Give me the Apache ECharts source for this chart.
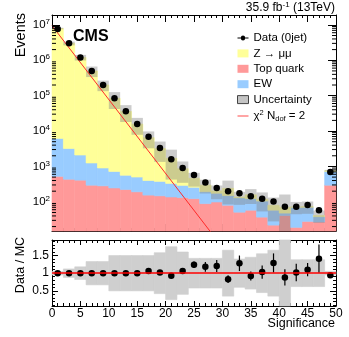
<!DOCTYPE html>
<html>
<head>
<meta charset="utf-8">
<script src="https://cdn.jsdelivr.net/npm/echarts@6/dist/echarts.min.js"></script>
<style>
html, body { margin: 0; padding: 0; background: #fff; }
#chart { width: 349px; height: 337px; }
</style>
</head>
<body>
<div id="chart"></div>
<script>
// bins of width 2 in significance, last one is the overflow
const binEdges = [0, 2, 4, 6, 8, 10, 12, 14, 16, 18, 20, 22, 24, 26, 28, 30, 32, 34, 36, 38, 40, 42, 44, 46, 48, 50];

const dataEvents = [7.6e6, 3.0e6, 1.2e6, 5.0e5, 2.0e5, 8.4e4, 3.6e4, 1.57e4, 6.9e3, 3.3e3, 1600, 910, 575, 350, 245, 200, 175, 145, 123, 103, 73, 73, 81, 58, 700];
const topQuark = [525, 435, 410, 295, 283, 247, 223, 192, 155, 148, 137, 132, 123, 89, 99, 80, 51, 58, 37, 22, 41, 19, 28, 27, 295];
const ewk = [5680, 2770, 1690, 955, 620, 475, 340, 310, 245, 230, 195, 160, 135, 105, 76, 70, 79, 65, 68, 36, 7, 51, 42, 11, 425];
const zmm = [7.894e6, 2.997e6, 1.198e6, 4.99e5, 1.99e5, 83300, 35400, 15200, 6100, 2820, 1370, 570, 206, 103, 29, 91, 7, 35, 14, 22, 22, 2, 4, 3, 40];
const uncRel = [0.05, 0.12, 0.18, 0.33, 0.33, 0.5, 0.5, 0.5, 0.5, 0.58, 0.75, 0.6, 0.42, 0.42, 0.42, 0.65, 0.4, 0.45, 0.55, 0.65, 1.3, 0.38, 0.38, 0.38, 0.05];

const ratio = [1.0, 1.0, 1.0, 1.0, 1.0, 1.0, 1.0, 1.0, 1.06, 1.02, 0.93, 1.06, 1.24, 1.18, 1.2, 0.83, 1.28, 0.92, 1.03, 1.29, 0.88, 1.02, 1.1, 1.41, 0.94];
const ratioErr = [0.01, 0.01, 0.01, 0.01, 0.01, 0.01, 0.02, 0.02, 0.02, 0.03, 0.04, 0.05, 0.09, 0.14, 0.17, 0.11, 0.22, 0.13, 0.19, 0.27, 0.23, 0.25, 0.19, 0.4, 0.05];

// exponential chi2 (Ndof = 2) expectation, straight on the log axis
const fitX = [0, 30];
const fitY = [9.5e6, 5.2];

const logDecades = [10, 100, 1e3, 1e4, 1e5, 1e6, 1e7];
const logMinorSteps = [2, 3, 4, 5, 6, 7, 8, 9];
const ratioMajor = [0.5, 1, 1.5];
const ratioMinor = [0.1, 0.2, 0.3, 0.4, 0.6, 0.7, 0.8, 0.9, 1.1, 1.2, 1.3, 1.4, 1.6, 1.7, 1.8, 1.9];

const FONT = "'Liberation Sans', Arial, Helvetica, sans-serif";
const C_Z = "#ffff99";
const C_TOP = "#ff9999";
const C_EW = "#99ccff";
const C_UNC = "rgba(128,128,128,0.4)";

const chart = echarts.init(document.getElementById("chart"));

// stacked layers: [x0, x1, low, high]
const layerTop = [], layerEw = [], layerZ = [], uncBox = [], ratioBand = [];
const dataPts = [], ratioPts = [];
for (let i = 0; i < dataEvents.length; i++) {
  const x0 = binEdges[i], x1 = binEdges[i + 1], xc = (x0 + x1) / 2;
  const t1 = topQuark[i], t2 = t1 + ewk[i], t3 = t2 + zmm[i];
  layerTop.push([x0, x1, 1, t1]);
  layerEw.push([x0, x1, t1, t2]);
  layerZ.push([x0, x1, t2, t3]);
  uncBox.push([x0, x1, Math.max(1, t3 * (1 - uncRel[i])), t3 * (1 + uncRel[i])]);
  ratioBand.push([x0, x1, 1 - uncRel[i], 1 + uncRel[i]]);
  dataPts.push([xc, dataEvents[i]]);
  ratioPts.push([xc, ratio[i], ratioErr[i]]);
}

const minorLog = [];
logDecades.forEach((d) => logMinorSteps.forEach((k) => {
  const v = d * k;
  if (v > 15 && v < 1.9e7) minorLog.push([0, v]);
}));

function rectItem(params, api) {
  const p0 = api.coord([api.value(0), api.value(3)]);
  const p1 = api.coord([api.value(1), api.value(2)]);
  const cs = params.coordSys;
  const shape = echarts.graphic.clipRectByRect(
    { x: p0[0], y: p0[1], width: p1[0] - p0[0], height: p1[1] - p0[1] },
    { x: cs.x, y: cs.y, width: cs.width, height: cs.height }
  );
  return shape && { type: "rect", shape: shape, style: { fill: api.visual("color") } };
}
// opaque layers get a hairline of their own colour so neighbouring bins don't leave seams
function solidRectItem(params, api) {
  const el = rectItem(params, api);
  if (el) { el.style.stroke = api.visual("color"); el.style.lineWidth = 0.6; }
  return el;
}

function histSeries(name, data, color, z, solid) {
  return {
    name: name, type: "custom", xAxisIndex: 0, yAxisIndex: 0, z: z,
    data: data, encode: { x: [0, 1], y: [2, 3] },
    itemStyle: { color: color }, renderItem: solid ? solidRectItem : rectItem, silent: true
  };
}

const lineBlack = { color: "#000", width: 1 };
function xAx(grid, pos, labels) {
  return {
    gridIndex: grid, type: "value", min: 0, max: 50, interval: 5, position: pos,
    axisLine: { show: true, onZero: false, lineStyle: lineBlack },
    axisTick: { show: true, inside: true, length: grid === 0 ? 7 : 5, lineStyle: lineBlack },
    minorTick: { show: true, splitNumber: 5, length: 3, lineStyle: lineBlack },
    axisLabel: { show: labels, color: "#000", fontFamily: FONT, fontSize: 12, margin: 2 },
    splitLine: { show: false }
  };
}
function logAx(pos, labels) {
  return {
    gridIndex: 0, type: "log", logBase: 10, min: 15, max: 1.9e7, splitNumber: 6, position: pos,
    axisLine: { show: true, onZero: false, lineStyle: lineBlack },
    axisTick: { show: true, inside: true, length: 8, lineStyle: lineBlack },
    axisLabel: {
      show: labels, margin: 2,
      formatter: (v) => {
        const l = Math.log10(v), e = Math.round(l);
        if (Math.abs(l - e) > 1e-6) return "";
        return "{b|10}{e|" + e + "}";
      },
      rich: {
        b: { fontSize: 11.5, fontFamily: FONT, color: "#000" },
        e: { fontSize: 8, fontFamily: FONT, color: "#000", padding: [0, 0, 6, 0] }
      }
    },
    splitLine: { show: false }
  };
}
function ratioAx(pos, ticks, len, labels, line) {
  return {
    gridIndex: 1, type: "value", min: 0.07, max: 1.94, position: pos,
    axisLine: { show: line, onZero: false, lineStyle: lineBlack },
    axisTick: { show: true, inside: true, length: len, customValues: ticks, lineStyle: lineBlack },
    axisLabel: { show: labels, customValues: ratioMajor, color: "#000", fontFamily: FONT, fontSize: 12, margin: 3 },
    splitLine: { show: false }
  };
}

const legendIconData = "path://M0,3.5H4a2.5,2.5,0,0,1,5,0H13v1H9a2.5,2.5,0,0,1,-5,0H0Z";
const legendIconLine = "path://M0,0H13V1H0Z";

chart.setOption({
  animation: false,
  backgroundColor: "#fff",
  textStyle: { fontFamily: FONT },
  grid: [
    { left: 52, right: 13, top: 15, height: 216, outerBoundsMode: "none" },
    { left: 52, right: 13, top: 240, height: 66, outerBoundsMode: "none" }
  ],
  xAxis: [xAx(0, "bottom", false), xAx(0, "top", false), xAx(1, "bottom", true), xAx(1, "top", false)],
  yAxis: [
    logAx("left", true), logAx("right", false),
    ratioAx("left", ratioMajor, 6, true, true), ratioAx("left", ratioMinor, 3, false, false),
    ratioAx("right", ratioMajor, 6, false, true), ratioAx("right", ratioMinor, 3, false, false)
  ],
  legend: {
    orient: "vertical", left: 237, top: 32, padding: 0,
    itemWidth: 11, itemHeight: 8, itemGap: 3.4,
    textStyle: {
      fontFamily: FONT, fontSize: 11.5, color: "#000", lineHeight: 11,
      rich: {
        n: { fontFamily: FONT, fontSize: 11.5, color: "#000" },
        s: { fontFamily: FONT, fontSize: 7.5, color: "#000", padding: [0, 0, 6, 0] },
        d: { fontFamily: FONT, fontSize: 7.5, color: "#000", padding: [5, 0, 0, 0] }
      }
    },
    formatter: (name) => name === "chi2" ? "{n|χ}{s|2}{n| N}{d|dof}{n| = 2}" : name,
    data: [
      { name: "Data (0jet)", icon: legendIconData },
      { name: "Z → μμ", icon: "rect" },
      { name: "Top quark", icon: "rect" },
      { name: "EW", icon: "rect" },
      { name: "Uncertainty", icon: "rect", itemStyle: { color: "#c4c4c4", borderColor: "#444", borderWidth: 1 } },
      { name: "chi2", icon: legendIconLine, itemHeight: 1 }
    ]
  },
  graphic: [
    { type: "text", x: 73, y: 37, style: { text: "CMS", fontFamily: FONT, fontWeight: "bold", fontSize: 16, fill: "#000", verticalAlign: "middle" } },
    { type: "text", x: 335, y: 8, style: { text: "35.9 fb{s|-1} (13TeV)", fontFamily: FONT, fontSize: 12, fill: "#000", align: "right", verticalAlign: "middle",
        rich: { s: { fontFamily: FONT, fontSize: 8, fill: "#000", padding: [0, 0, 6, 0] } } } },
    { type: "text", x: 21, y: 13, rotation: Math.PI / 2, style: { text: "Events", fontFamily: FONT, fontSize: 14.5, fill: "#000", align: "right", verticalAlign: "middle" } },
    { type: "text", x: 21, y: 265, rotation: Math.PI / 2, style: { text: "Data / MC", fontFamily: FONT, fontSize: 12.5, fill: "#000", align: "center", verticalAlign: "middle" } },
    { type: "text", x: 335, y: 324, style: { text: "Significance", fontFamily: FONT, fontSize: 12.5, fill: "#000", align: "right", verticalAlign: "middle" } }
  ],
  series: [
    histSeries("Top quark", layerTop, C_TOP, 1, true),
    histSeries("EW", layerEw, C_EW, 1, true),
    histSeries("Z → μμ", layerZ, C_Z, 1, true),
    histSeries("Uncertainty", uncBox, C_UNC, 2, false),
    {
      name: "minorLogTicks", type: "custom", xAxisIndex: 0, yAxisIndex: 0, z: 5, silent: true,
      data: minorLog, encode: { x: 0, y: 1 },
      renderItem: (params, api) => {
        const l = api.coord([0, api.value(1)]);
        const r = api.coord([50, api.value(1)]);
        const st = { stroke: "#000", lineWidth: 1 };
        return { type: "group", children: [
          { type: "line", shape: { x1: l[0], y1: l[1], x2: l[0] + 4, y2: l[1] }, style: st },
          { type: "line", shape: { x1: r[0] - 4, y1: r[1], x2: r[0], y2: r[1] }, style: st }
        ] };
      }
    },
    {
      name: "chi2", type: "line", xAxisIndex: 0, yAxisIndex: 0, z: 3,
      data: fitX.map((x, i) => [x, fitY[i]]), symbol: "none", clip: true,
      lineStyle: { color: "#ff2a2a", width: 1 }, itemStyle: { color: "#ff2a2a" }
    },
    {
      name: "Data (0jet)", type: "scatter", xAxisIndex: 0, yAxisIndex: 0, z: 4,
      data: dataPts, symbol: "circle", symbolSize: 6.5, itemStyle: { color: "#000", opacity: 1 }
    },
    {
      name: "ratioBand", type: "custom", xAxisIndex: 2, yAxisIndex: 2, z: 1, silent: true,
      data: ratioBand, encode: { x: [0, 1], y: [2, 3] },
      itemStyle: { color: "#cfcfcf" }, renderItem: solidRectItem,
      markLine: {
        silent: true, symbol: "none", label: { show: false },
        lineStyle: { color: "#ff0000", width: 1.5, type: "solid" },
        data: [{ yAxis: 1 }]
      }
    },
    {
      name: "ratioErr", type: "custom", xAxisIndex: 2, yAxisIndex: 2, z: 3, silent: true,
      data: ratioPts, encode: { x: 0, y: 1 },
      renderItem: (params, api) => {
        const a = api.coord([api.value(0), api.value(1) - api.value(2)]);
        const b = api.coord([api.value(0), api.value(1) + api.value(2)]);
        return { type: "line", shape: { x1: a[0], y1: a[1], x2: b[0], y2: b[1] }, style: { stroke: "#000", lineWidth: 1.2 } };
      }
    },
    {
      name: "ratioPts", type: "scatter", xAxisIndex: 2, yAxisIndex: 2, z: 4,
      data: ratioPts.map((p) => [p[0], p[1]]), symbol: "circle", symbolSize: 6.5, itemStyle: { color: "#000", opacity: 1 }
    }
  ]
});
</script>
</body>
</html>
